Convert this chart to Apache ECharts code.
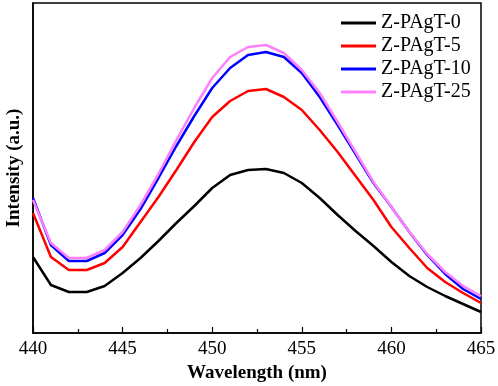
<!DOCTYPE html>
<html>
<head>
<meta charset="utf-8">
<script src="https://cdn.jsdelivr.net/npm/echarts@6/dist/echarts.min.js"></script>
<style>
  html, body { margin: 0; padding: 0; background: #fff; }
  #chart { width: 498px; height: 386px; }
</style>
</head>
<body>
<div id="chart"></div>
<script>
const wavelengths = [440, 441, 442, 443, 444, 445, 446, 447, 448, 449, 450, 451, 452,
  453, 454, 455, 456, 457, 458, 459, 460, 461, 462, 463, 464, 465];

// intensity (a.u.)
const pagt0 = [76, 48, 41, 41, 47, 60, 75, 92, 110, 127, 145, 158, 163,
  164, 160, 150, 135, 118, 102, 87, 71, 57, 46, 37, 29, 21];
const pagt5 = [120, 76, 63, 63, 70, 86, 111, 136, 163, 191, 216, 232, 242,
  244, 236, 223, 203, 181, 157, 133, 106, 85, 65, 51, 40, 30];
const pagt10 = [135, 88, 72, 72, 80, 98, 124, 155, 187, 217, 245, 265, 278,
  281, 276, 260, 236, 208, 179, 150, 126, 101, 78, 59, 44, 34];
const pagt25 = [133, 90, 75, 75, 83, 101, 128, 159, 193, 225, 255, 276, 286,
  288, 280, 263, 240, 211, 181, 151, 126, 101, 79, 61, 47, 37];

const seriesNames = ['Z-PAgT-0', 'Z-PAgT-5', 'Z-PAgT-10', 'Z-PAgT-25'];
const seriesValues = [pagt0, pagt5, pagt10, pagt25];
const colors = ['#000000', '#ff0000', '#0000ff', '#ff80ff'];

const font = 'Liberation Serif';

const chart = echarts.init(document.getElementById('chart'));

const option = {
  animation: false,
  backgroundColor: '#fff',
  grid: {
    left: 33,
    right: 17,
    top: 3,
    bottom: 53,
    outerBoundsMode: 'none',
    show: true,
    borderColor: '#000',
    borderWidth: 1.5,
  },
  legend: {
    orient: 'vertical',
    left: 341,
    top: 13,
    padding: 0,
    itemWidth: 35,
    itemHeight: 3,
    itemGap: 3,
    icon: 'rect',
    textStyle: {
      fontFamily: font,
      fontSize: 20,
      lineHeight: 20,
      color: '#000',
    },
    data: seriesNames,
  },
  xAxis: {
    type: 'value',
    min: 440,
    max: 465,
    interval: 5,
    name: 'Wavelength (nm)',
    nameLocation: 'middle',
    nameGap: 31,
    nameTextStyle: {
      fontFamily: font,
      fontSize: 19,
      fontWeight: 'bold',
      color: '#000',
    },
    axisLine: { onZero: false, lineStyle: { color: '#000', width: 1.5 } },
    axisTick: { inside: true, length: 6, lineStyle: { color: '#000', width: 1.2 } },
    minorTick: { show: true, splitNumber: 2, length: 4, lineStyle: { color: '#000', width: 1.2 } },
    axisLabel: {
      fontFamily: font,
      fontSize: 19,
      color: '#000',
      margin: 7,
    },
    splitLine: { show: false },
  },
  yAxis: {
    type: 'value',
    min: 0,
    max: 330,
    name: 'Intensity (a.u.)',
    nameLocation: 'middle',
    nameGap: 9,
    nameTextStyle: {
      fontFamily: font,
      fontSize: 19,
      fontWeight: 'bold',
      color: '#000',
    },
    axisLine: { show: true, lineStyle: { color: '#000', width: 1.5 } },
    axisTick: { show: false },
    axisLabel: { show: false },
    splitLine: { show: false },
  },
  series: seriesNames.map((name, i) => ({
    name: name,
    type: 'line',
    data: wavelengths.map((w, j) => [w, seriesValues[i][j]]),
    showSymbol: false,
    symbol: 'none',
    lineStyle: { color: colors[i], width: 2.5 },
    itemStyle: { color: colors[i] },
  })),
};

chart.setOption(option);
</script>
</body>
</html>
